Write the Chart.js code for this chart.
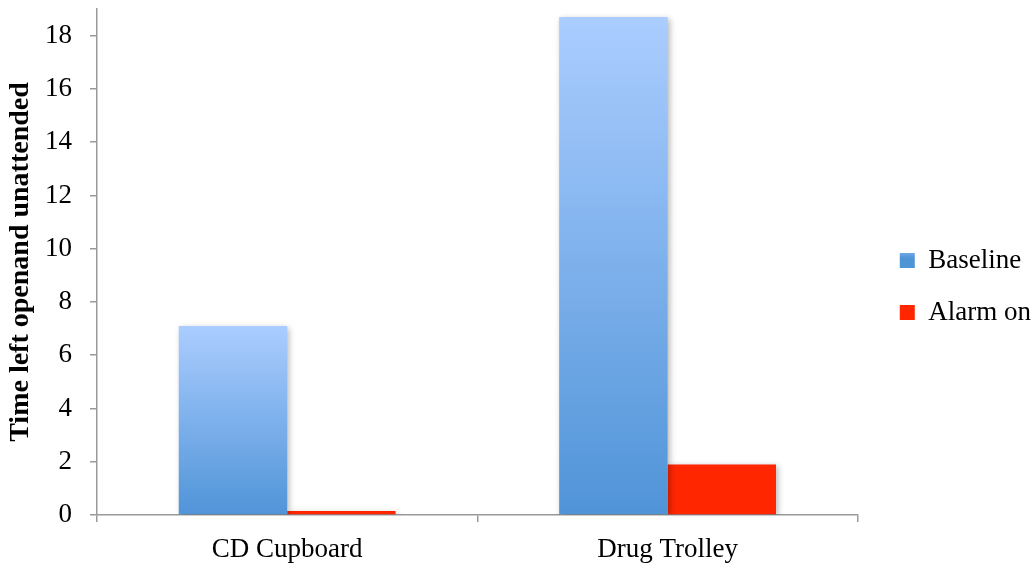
<!DOCTYPE html>
<html>
<head>
<meta charset="utf-8">
<script src="https://cdn.jsdelivr.net/npm/chart.js@4.4.1/dist/chart.umd.min.js"></script>
<style>
  body { margin: 0; background: #fff; }
  #wrap { width: 1036px; height: 566px; }
</style>
</head>
<body>
<div id="wrap"><canvas id="barChart" width="1036" height="566"></canvas></div>
<script>
// данные графика
const categories = ['CD Cupboard', 'Drug Trolley'];
const baselineValues = [7.1, 18.7];
const alarmValues = [0.15, 1.9];
const yTicks = [0, 2, 4, 6, 8, 10, 12, 14, 16, 18];

const serif = "'Liberation Serif', 'DejaVu Serif', serif";

// градиент для синих столбцов: светлый сверху, тёмный снизу
function blueGradient(context) {
    const chart = context.chart;
    const yScale = chart.scales.y;
    if (!yScale || !chart.chartArea) return '#7aaeea';
    let top = chart.chartArea.top, bottom = chart.chartArea.bottom;
    if (context.type === 'data') {
        top = yScale.getPixelForValue(context.parsed.y);
        bottom = yScale.getPixelForValue(0);
    }
    const g = chart.ctx.createLinearGradient(0, top, 0, bottom);
    g.addColorStop(0, '#abcdff');
    g.addColorStop(1, '#5094d8');
    return g;
}

// лёгкая тень под столбцами
const barShadow = {
    id: 'barShadow',
    beforeDatasetsDraw(chart) {
        const ctx = chart.ctx;
        ctx.save();
        ctx.shadowColor = 'rgba(0,0,0,0.28)';
        ctx.shadowBlur = 6;
        ctx.shadowOffsetX = 2;
        ctx.shadowOffsetY = 2;
    },
    afterDatasetsDraw(chart) {
        chart.ctx.restore();
    }
};

// легенда пошире (чтобы область графика кончалась там же, где в оригинале),
// а сами пункты сдвигаем вправо
const LEGEND_EXTRA = 12;
const LEGEND_SHIFT = 17;
const legendPlace = {
    id: 'legendPlace',
    beforeInit(chart) {
        const legend = chart.legend;
        if (!legend) return;
        const origFit = legend.fit.bind(legend);
        legend.fit = function () {
            origFit();
            this.width += LEGEND_EXTRA;
        };
    },
    afterLayout(chart) {
        const legend = chart.legend;
        if (!legend) return;
        legend.left += LEGEND_SHIFT;
        legend.right += LEGEND_SHIFT;
    }
};

const ctx = document.getElementById('barChart').getContext('2d');

new Chart(ctx, {
    type: 'bar',
    data: {
        labels: categories,
        datasets: [{
            label: 'Baseline',
            data: baselineValues,
            backgroundColor: blueGradient,
            borderWidth: 0
        }, {
            label: 'Alarm on',
            data: alarmValues,
            backgroundColor: '#ff2600',
            borderWidth: 0
        }]
    },
    options: {
        responsive: false,
        animation: false,
        datasets: {
            bar: { categoryPercentage: 0.57, barPercentage: 1.0 }
        },
        layout: { padding: { top: 9, right: 0, left: 0, bottom: 2 } },
        plugins: {
            tooltip: { enabled: false },
            legend: {
                position: 'right',
                labels: {
                    boxWidth: 15,
                    boxHeight: 15,
                    padding: 25,
                    color: '#000',
                    font: { family: serif, size: 27 },
                    generateLabels(chart) {
                        const items = Chart.defaults.plugins.legend.labels.generateLabels(chart);
                        items.forEach((it, i) => {
                            if (i === 0) {
                                const top = chart.height / 2 - 40;
                                const g = chart.ctx.createLinearGradient(0, top, 0, top + 15);
                                g.addColorStop(0, '#abcdff');
                                g.addColorStop(1, '#5094d8');
                                it.fillStyle = g;
                            }
                            it.lineWidth = 0;
                        });
                        return items;
                    }
                }
            }
        },
        scales: {
            x: {
                offset: true,
                afterFit(scale) {
                    scale.height = 49;
                },
                grid: {
                    offset: true,
                    drawOnChartArea: false,
                    drawTicks: true,
                    tickLength: 7,
                    color: '#999',
                    lineWidth: 1.5
                },
                border: { color: '#999', width: 1.5 },
                ticks: {
                    color: '#000',
                    padding: 12,
                    font: { family: serif, size: 27 }
                }
            },
            y: {
                min: 0,
                max: 19,
                afterBuildTicks(axis) {
                    axis.ticks = yTicks.map(v => ({ value: v }));
                },
                afterFit(scale) {
                    scale.width = 97;
                    scale.paddingTop = 0;
                    scale.paddingBottom = 0;
                },
                grid: {
                    drawOnChartArea: false,
                    drawTicks: true,
                    tickLength: 7,
                    color: '#999',
                    lineWidth: 1.5
                },
                border: { color: '#999', width: 1.5 },
                ticks: {
                    color: '#000',
                    padding: 18,
                    font: { family: serif, size: 27 }
                },
                title: {
                    display: true,
                    text: 'Time left openand unattended',
                    color: '#000',
                    font: { family: serif, size: 28, weight: 'bold' },
                    padding: { top: 4, bottom: 0 }
                }
            }
        }
    },
    plugins: [barShadow, legendPlace]
});
</script>
</body>
</html>
